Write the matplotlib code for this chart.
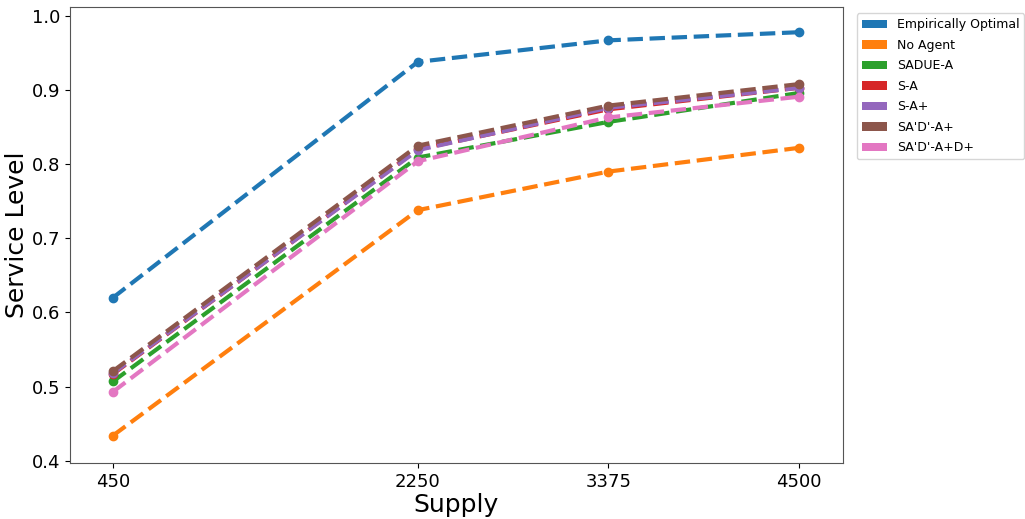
import matplotlib
matplotlib.use("Agg")
import matplotlib.pyplot as plt
from matplotlib.patches import Patch

supply = [450, 2250, 3375, 4500]

empirically_optimal = [0.620, 0.938, 0.967, 0.978]
no_agent = [0.434, 0.738, 0.790, 0.822]
sadue_a = [0.507, 0.809, 0.857, 0.896]
s_a = [0.517, 0.820, 0.874, 0.903]
s_a_plus = [0.518, 0.819, 0.876, 0.903]
sadp_a_plus = [0.521, 0.825, 0.879, 0.908]
sadp_a_d_plus = [0.493, 0.804, 0.863, 0.891]

series = [
    ("Empirically Optimal", empirically_optimal, "#1f77b4"),
    ("No Agent", no_agent, "#ff7f0e"),
    ("SADUE-A", sadue_a, "#2ca02c"),
    ("S-A", s_a, "#d62728"),
    ("S-A+", s_a_plus, "#9467bd"),
    ("SA'D'-A+", sadp_a_plus, "#8c564b"),
    ("SA'D'-A+D+", sadp_a_d_plus, "#e377c2"),
]

fig = plt.figure(figsize=(10.25, 5.19), dpi=100)
ax = fig.add_axes([0.0683, 0.108, 0.754, 0.8785])

for label, vals, color in series:
    ax.plot(supply, vals, "o--", color=color, linewidth=3, markersize=6, label=label)

ax.set_xlim(196, 4760)
ax.set_ylim(0.397, 1.012)
ax.set_xticks(supply)
ax.set_xticklabels([str(s) for s in supply])
ax.set_yticks([0.4, 0.5, 0.6, 0.7, 0.8, 0.9, 1.0])
ax.tick_params(labelsize=13)
ax.set_xlabel("Supply", fontsize=18, labelpad=2)
ax.set_ylabel("Service Level", fontsize=18, labelpad=2)
for sp in ax.spines.values():
    sp.set_color("#555555")

handles = [Patch(facecolor=c, label=l) for l, _, c in series]
ax.legend(handles=handles, loc="upper left", bbox_to_anchor=(1.01, 1.0),
          fontsize=9, borderaxespad=0.5, labelspacing=0.6)

fig.savefig("out.png", dpi=100)
